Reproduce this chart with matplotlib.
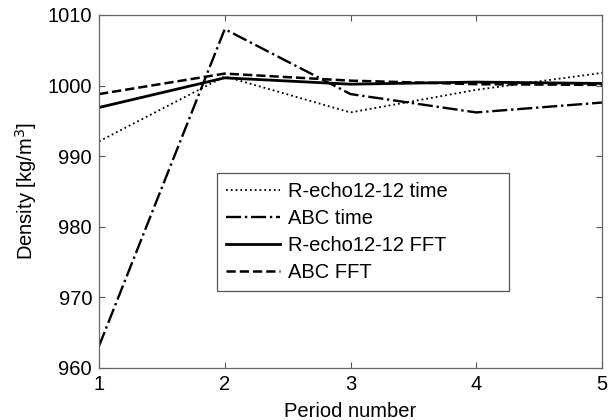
import matplotlib
matplotlib.use("Agg")
import matplotlib.pyplot as plt

plt.rcParams["font.family"] = ["Liberation Sans", "DejaVu Sans"]

periods = [1, 2, 3, 4, 5]
recho_time = [992.1, 1001.3, 996.2, 999.4, 1001.8]
abc_time = [963.1, 1008.0, 998.8, 996.2, 997.6]
recho_fft = [996.9, 1001.1, 1000.2, 1000.5, 1000.3]
abc_fft = [998.8, 1001.7, 1000.7, 1000.2, 1000.1]

fig = plt.figure(figsize=(6.1, 4.2), dpi=100)
ax = fig.add_axes([99 / 610, 52 / 420, 503 / 610, 353 / 420])

ax.plot(periods, recho_time, color="black", linestyle=":", linewidth=1.3, label="R-echo12-12 time")
ax.plot(periods, abc_time, color="black", linestyle="-.", linewidth=1.7, label="ABC time")
ax.plot(periods, recho_fft, color="black", linestyle="-", linewidth=2.0, label="R-echo12-12 FFT")
ax.plot(periods, abc_fft, color="black", linestyle="--", linewidth=1.8, label="ABC FFT")

ax.set_xlim(1, 5)
ax.set_ylim(960, 1010)
ax.set_xticks(periods)
ax.set_yticks([960, 970, 980, 990, 1000, 1010])
ax.tick_params(direction="in", top=True, right=True, labelsize=14.5, length=4.5,
               color="#555555", pad=5)
for s in ax.spines.values():
    s.set_color("#666666")
    s.set_linewidth(0.9)

ax.set_xlabel("Period number", fontsize=14.5, labelpad=6)
ax.set_ylabel("Density [kg/m$^3$]", fontsize=14.5, labelpad=6)

# legend box stretched to the width used in the reference
leg = ax.legend(loc="lower left", bbox_to_anchor=(0.2346, 0.218, 0.5805, 0.33),
                mode="expand", borderaxespad=0, fontsize=14.5, fancybox=False,
                framealpha=1, edgecolor="#555555", handlelength=2.7,
                borderpad=0.45, labelspacing=0.4, handletextpad=0.4)
leg.get_frame().set_linewidth(0.9)

fig.savefig("out.png", dpi=100)
